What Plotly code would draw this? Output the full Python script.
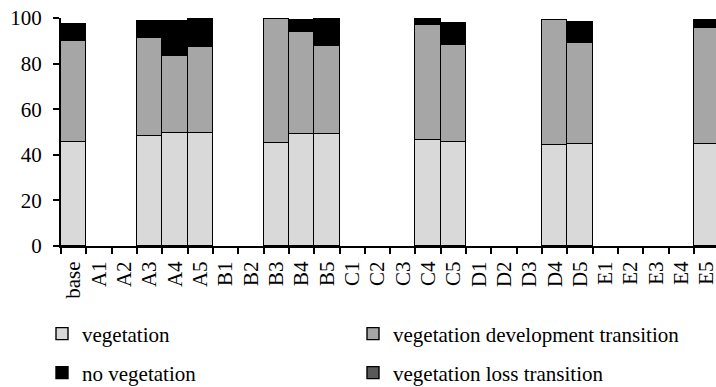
import plotly.graph_objects as go

categories = ["base", "A1", "A2", "A3", "A4", "A5", "B1", "B2", "B3", "B4", "B5",
              "C1", "C2", "C3", "C4", "C5", "D1", "D2", "D3", "D4", "D5",
              "E1", "E2", "E3", "E4", "E5"]

N = None
vegetation = [45.5, N, N, 48.2, 49.6, 49.6, N, N, 45.3, 49.1, 49.1,
              N, N, N, 46.6, 45.7, N, N, N, 44.4, 44.7, N, N, N, N, 44.9]
development = [44.2, N, N, 43.0, 33.7, 37.6, N, N, 54.2, 44.9, 38.6,
               N, N, N, 50.3, 42.4, N, N, N, 54.9, 44.4, N, N, N, N, 50.7]
no_vegetation = [7.7, N, N, 7.7, 15.4, 12.8, N, N, 0, 5.1, 11.8,
                 N, N, N, 3.1, 9.7, N, N, N, 0, 9.1, N, N, N, N, 3.5]
loss = [0, N, N, 0, 0, 0, N, N, 0, 0, 0,
        N, N, N, 0, 0, N, N, N, 0, 0, N, N, N, N, 0]

series_names = ["vegetation", "vegetation development transition",
                "no vegetation", "vegetation loss transition"]
series_values = [vegetation, development, no_vegetation, loss]
series_colors = ["#d9d9d9", "#a6a6a6", "#000000", "#595959"]
series_legend = ["legend", "legend2", "legend3", "legend4"]

FONT = "Liberation Serif, Times New Roman, serif"
FS = 21

fig = go.Figure()
for name, vals, col, lg in zip(series_names, series_values, series_colors, series_legend):
    fig.add_trace(go.Bar(
        x=categories, y=vals, name=name, showlegend=True,
        marker=dict(color=col, line=dict(color="black", width=1.4)),
        legend=lg,
    ))

W, H = 716, 387
ML, MR, MT, MB = 61, 0, 18, 141
PW, PH = W - ML - MR, H - MT - MB


def px_x(X):
    return (X - ML) / PW


def px_y(Y):
    return (H - MB - Y) / PH


def legend_at(text_x, row_y):
    return dict(
        x=px_x(text_x - 40), y=px_y(row_y),
        orientation="v", xanchor="left", yanchor="middle",
        font=dict(family=FONT, size=FS, color="black"),
        bgcolor="rgba(0,0,0,0)", borderwidth=0, visible=True,
        itemclick=False, itemdoubleclick=False,
    )


fig.update_layout(
    width=W, height=H, showlegend=True,
    margin=dict(l=ML, r=MR, t=MT, b=MB, autoexpand=False),
    paper_bgcolor="white", plot_bgcolor="white",
    barmode="stack", bargap=0,
    font=dict(family=FONT, size=FS, color="black"),
    legend=legend_at(82, 334),
    legend2=legend_at(393, 334),
    legend3=legend_at(82, 373),
    legend4=legend_at(393, 373),
    xaxis=dict(
        type="category", range=[-0.5, 25.37], automargin=False,
        tickson="boundaries", ticks="outside", ticklen=6, tickwidth=1.5,
        tickcolor="black", showline=True, linecolor="black", linewidth=2,
        showgrid=False, tickangle=-90, ticklabelstandoff=5,
        tickfont=dict(family=FONT, size=FS, color="black"),
    ),
    yaxis=dict(
        range=[0, 100], dtick=20, ticks="outside", ticklen=6, tickwidth=1.5,
        tickcolor="black", showline=True, linecolor="black", linewidth=2,
        showgrid=False, zeroline=False, automargin=False, ticklabelstandoff=7,
        tickfont=dict(family=FONT, size=FS, color="black"),
    ),
)

fig.write_html("out.html", config={"displayModeBar": False},
               post_script="document.body.style.margin='0';")
